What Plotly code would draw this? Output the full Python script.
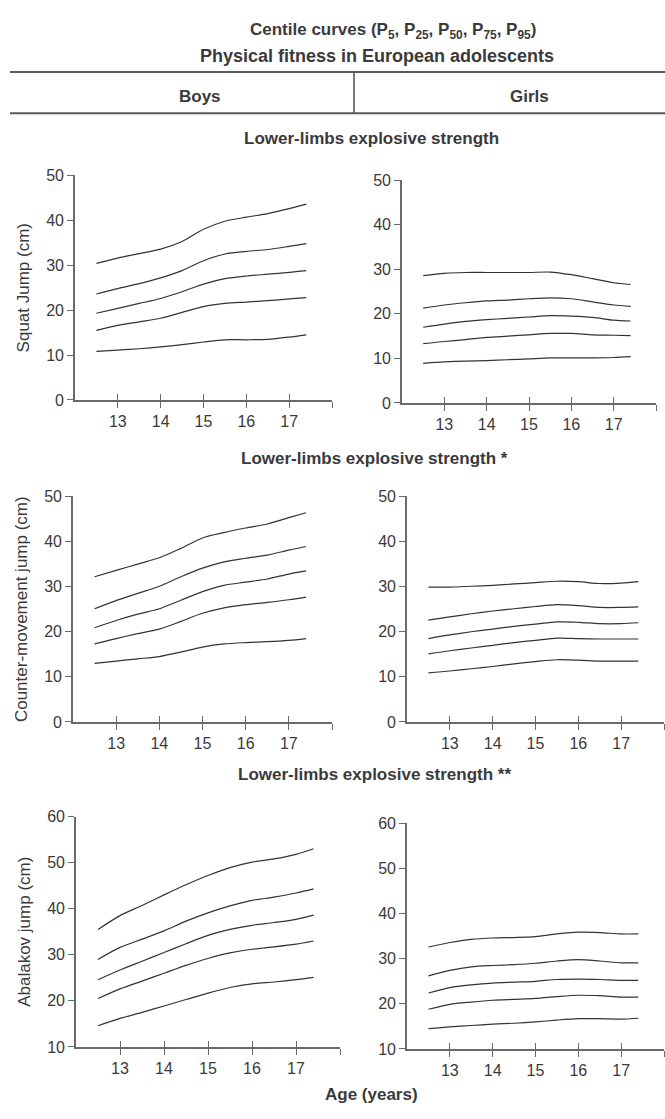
import plotly.graph_objects as go

ages = [12.5, 13, 13.5, 14, 14.5, 15, 15.5, 16, 16.5, 17, 17.4]
centiles = ["P5", "P25", "P50", "P75", "P95"]

# Squat jump
boys_sj = {
    "P5":  [10.8, 11.1, 11.4, 11.8, 12.3, 12.9, 13.4, 13.4, 13.5, 14.0, 14.5],
    "P25": [15.5, 16.6, 17.4, 18.2, 19.5, 20.8, 21.5, 21.8, 22.1, 22.5, 22.8],
    "P50": [19.3, 20.4, 21.5, 22.6, 24.1, 25.8, 27.0, 27.6, 28.0, 28.4, 28.8],
    "P75": [23.6, 24.8, 25.9, 27.2, 28.8, 31.0, 32.5, 33.1, 33.5, 34.2, 34.8],
    "P95": [30.4, 31.6, 32.6, 33.6, 35.3, 38.0, 39.8, 40.7, 41.5, 42.6, 43.6],
}
girls_sj = {
    "P5":  [8.9, 9.2, 9.4, 9.5, 9.7, 9.9, 10.1, 10.1, 10.1, 10.2, 10.4],
    "P25": [13.3, 13.8, 14.2, 14.7, 15.0, 15.3, 15.6, 15.6, 15.3, 15.2, 15.1],
    "P50": [17.0, 17.7, 18.3, 18.7, 19.0, 19.3, 19.6, 19.5, 19.2, 18.6, 18.4],
    "P75": [21.3, 22.0, 22.5, 22.9, 23.1, 23.4, 23.6, 23.4, 22.7, 22.0, 21.7],
    "P95": [28.6, 29.1, 29.3, 29.3, 29.3, 29.3, 29.4, 28.8, 27.9, 27.0, 26.6],
}
# Counter-movement jump
boys_cmj = {
    "P5":  [13.0, 13.5, 14.0, 14.5, 15.5, 16.6, 17.3, 17.6, 17.8, 18.1, 18.5],
    "P25": [17.3, 18.5, 19.6, 20.6, 22.3, 24.1, 25.3, 26.0, 26.5, 27.1, 27.7],
    "P50": [20.9, 22.5, 23.9, 25.1, 27.0, 28.9, 30.3, 31.0, 31.7, 32.8, 33.5],
    "P75": [25.1, 26.9, 28.5, 30.1, 32.2, 34.1, 35.5, 36.3, 37.0, 38.1, 38.9],
    "P95": [32.2, 33.6, 35.0, 36.4, 38.5, 40.8, 42.0, 43.0, 43.9, 45.3, 46.4],
}
girls_cmj = {
    "P5":  [10.9, 11.3, 11.8, 12.3, 12.9, 13.4, 13.8, 13.7, 13.5, 13.5, 13.5],
    "P25": [15.1, 15.8, 16.4, 17.0, 17.6, 18.1, 18.6, 18.5, 18.4, 18.4, 18.4],
    "P50": [18.5, 19.3, 20.0, 20.6, 21.2, 21.7, 22.2, 22.1, 21.8, 21.8, 22.0],
    "P75": [22.6, 23.3, 24.0, 24.6, 25.1, 25.6, 26.0, 25.8, 25.4, 25.4, 25.5],
    "P95": [29.9, 29.9, 30.1, 30.3, 30.6, 30.9, 31.2, 31.1, 30.7, 30.8, 31.1],
}
# Abalakov jump
boys_aj = {
    "P5":  [14.6, 16.2, 17.5, 18.9, 20.3, 21.7, 22.9, 23.7, 24.1, 24.6, 25.1],
    "P25": [20.5, 22.6, 24.3, 26.0, 27.7, 29.2, 30.4, 31.2, 31.7, 32.3, 33.0],
    "P50": [24.6, 26.7, 28.6, 30.5, 32.4, 34.2, 35.5, 36.4, 37.0, 37.7, 38.6],
    "P75": [29.0, 31.6, 33.4, 35.2, 37.3, 39.1, 40.6, 41.8, 42.5, 43.4, 44.3],
    "P95": [35.5, 38.5, 40.7, 43.0, 45.2, 47.2, 48.9, 50.1, 50.8, 51.8, 53.0],
}
girls_aj = {
    "P5":  [14.5, 14.9, 15.2, 15.5, 15.7, 16.0, 16.4, 16.7, 16.7, 16.6, 16.8],
    "P25": [18.8, 19.9, 20.4, 20.8, 21.0, 21.2, 21.6, 21.9, 21.8, 21.5, 21.5],
    "P50": [22.4, 23.6, 24.2, 24.6, 24.8, 25.0, 25.4, 25.5, 25.4, 25.2, 25.2],
    "P75": [26.2, 27.4, 28.2, 28.5, 28.7, 29.0, 29.5, 29.8, 29.5, 29.1, 29.1],
    "P95": [32.6, 33.6, 34.3, 34.6, 34.7, 34.9, 35.5, 35.9, 35.8, 35.5, 35.5],
}

x_tickvals = [13, 14, 15, 16, 17]
x_end_tick = [18]
y_titles = ["Squat Jump (cm)", "Counter-movement jump (cm)", "Abalakov jump (cm)"]
section_titles = ["Lower-limbs explosive strength",
                  "Lower-limbs explosive strength *",
                  "Lower-limbs explosive strength **"]

W, H = 665, 1119
def px_x(a, b):
    return [a / W, b / W]
def px_y(top, bottom):
    return [1 - bottom / H, 1 - top / H]

panels = [
    (boys_sj,  px_x(75, 332),  px_y(170, 398), [0, 50], y_titles[0]),
    (girls_sj, px_x(402, 656), px_y(175, 401), [0, 50], None),
    (boys_cmj, px_x(73, 332),  px_y(496, 725), [0, 50], y_titles[1]),
    (girls_cmj, px_x(407, 664), px_y(496, 725), [0, 50], None),
    (boys_aj,  px_x(76, 340),  px_y(821, 1055), [10, 60], y_titles[2]),
    (girls_aj, px_x(407, 664), px_y(828, 1057), [10, 60], None),
]

FONT = "Liberation Sans, Arial, sans-serif"
AXC = "#6a6a6a"
TXT = "#3a3a3a"
CURVE = "#333333"

fig = go.Figure()
layout = {}
for i, (data, xd, yd, yr, ytitle) in enumerate(panels):
    n = i + 1
    xa = "x" if n == 1 else f"x{n}"
    ya = "y" if n == 1 else f"y{n}"
    for c in centiles:
        fig.add_trace(go.Scatter(
            x=ages, y=data[c], mode="lines", xaxis=xa, yaxis=ya,
            line=dict(color=CURVE, width=1.2, shape="spline", smoothing=0.8),
            showlegend=False, hoverinfo="skip"))
    xk = "xaxis" if n == 1 else f"xaxis{n}"
    yk = "yaxis" if n == 1 else f"yaxis{n}"
    layout[xk] = dict(
        domain=xd, range=[12, 18], anchor=ya, showgrid=False, zeroline=False,
        showline=True, linecolor=AXC, linewidth=1.6,
        tickmode="array", tickvals=x_tickvals,
        ticks="outside", ticklen=6, tickwidth=1.4, tickcolor=AXC,
        minor=dict(tickmode="array", tickvals=x_end_tick, ticks="outside",
                   ticklen=6, tickwidth=1.4, tickcolor=AXC, showgrid=False),
        tickfont=dict(family=FONT, size=16, color=TXT), fixedrange=True)
    yt = list(range(yr[0], yr[1] + 1, 10))
    layout[yk] = dict(
        domain=yd, range=yr, anchor=xa, showgrid=False, zeroline=False,
        showline=True, linecolor=AXC, linewidth=1.6,
        tickmode="array", tickvals=yt,
        ticks="outside", ticklen=6, tickwidth=1.4, tickcolor=AXC,
        tickfont=dict(family=FONT, size=16, color=TXT), fixedrange=True,
        title=dict(text=ytitle, font=dict(family=FONT, size=17, color=TXT),
                   standoff=12) if ytitle else None)
    # overlay axis for the upward part of crossing x ticks
    m = n + 6
    ok = f"xaxis{m}"
    layout[ok] = dict(
        domain=xd, range=[12, 18], anchor=ya, overlaying=xa,
        showgrid=False, zeroline=False, showline=False,
        tickmode="array", tickvals=x_tickvals + x_end_tick, showticklabels=False,
        ticks="inside", ticklen=6, tickwidth=1.4, tickcolor=AXC, fixedrange=True)
    fig.add_trace(go.Scatter(x=[None], y=[None], xaxis=f"x{m}", yaxis=ya,
                             mode="lines", showlegend=False, hoverinfo="skip"))

annotations = []
def ann(text, xpx, ypx, size=17, bold=True):
    annotations.append(dict(
        text=f"<b>{text}</b>" if bold else text, x=xpx / W, y=1 - ypx / H,
        xref="paper", yref="paper", showarrow=False, xanchor="center", yanchor="middle",
        font=dict(family=FONT, size=size, color=TXT)))

ann("Centile curves (P<sub>5</sub>, P<sub>25</sub>, P<sub>50</sub>, P<sub>75</sub>, P<sub>95</sub>)", 393, 23, size=17)
ann("Physical fitness in European adolescents", 377, 49, size=18)
ann("Boys", 200, 90, size=17)
ann("Girls", 529, 90, size=17)
ann(section_titles[0], 371, 133)
ann(section_titles[1], 374, 457)
ann(section_titles[2], 374, 778)
ann("Age (years)", 372, 1103)

LINEC = "#5a5a5a"
shapes = [
    dict(type="line", xref="paper", yref="paper", x0=10 / W, x1=1, y0=1 - 65 / H, y1=1 - 65 / H,
         line=dict(color=LINEC, width=2)),
    dict(type="line", xref="paper", yref="paper", x0=10 / W, x1=1, y0=1 - 107 / H, y1=1 - 107 / H,
         line=dict(color=LINEC, width=2)),
    dict(type="line", xref="paper", yref="paper", x0=354 / W, x1=354 / W, y0=1 - 65 / H, y1=1 - 107 / H,
         line=dict(color=LINEC, width=1.6)),
]

fig.update_layout(
    width=W, height=H, margin=dict(l=0, r=0, t=0, b=0),
    paper_bgcolor="white", plot_bgcolor="white",
    annotations=annotations, shapes=shapes, showlegend=False,
    **layout)

fig.write_html("out.html", config={"displayModeBar": False},
               post_script="document.body.style.margin='0';document.body.style.overflow='hidden';")
